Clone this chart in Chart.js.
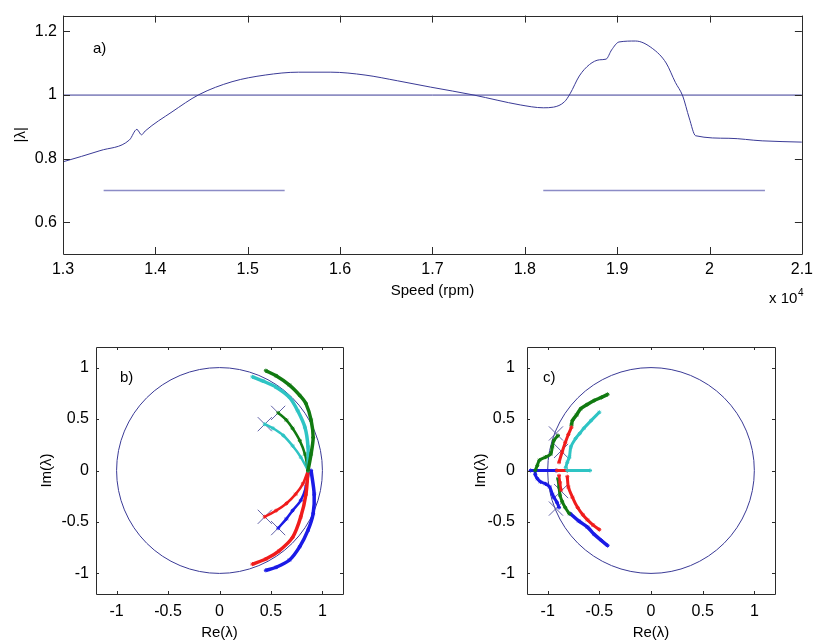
<!DOCTYPE html>
<html>
<head>
<meta charset="utf-8">
<script src="https://cdn.jsdelivr.net/npm/chart.js@4.4.1/dist/chart.umd.min.js"></script>
<style>
  body { margin: 0; background: #fff; width: 819px; height: 643px; position: relative; overflow: hidden; }
  canvas { position: absolute; }
</style>
</head>
<body>
<canvas id="magChart" width="819" height="310" style="left:0;top:0"></canvas>
<canvas id="rootsB" width="360" height="323" style="left:0;top:320px"></canvas>
<canvas id="rootsC" width="379" height="323" style="left:440px;top:320px"></canvas>
<script>
// a) largest eigenvalue magnitude against rotor speed
const speedRpm = [13000, 13400, 13720, 13800, 13850, 13890, 14180, 14470, 14830, 15190,
  15550, 15900, 16270, 16620, 16980, 17450, 17700, 17950, 18200, 18310,
  18430, 18490, 18590, 18700, 18810, 18880, 18940, 19020, 19200, 19380,
  19530, 19630, 19710, 19780, 19850, 20210, 20570, 21000];
const lambdaMag = [0.790, 0.825, 0.859, 0.892, 0.875, 0.887, 0.947, 1.001, 1.042, 1.063,
  1.072, 1.072, 1.063, 1.045, 1.025, 1.000, 0.984, 0.969, 0.960, 0.962,
  0.979, 1.004, 1.060, 1.096, 1.111, 1.113, 1.142, 1.167, 1.170, 1.147,
  1.101, 1.040, 0.997, 0.928, 0.872, 0.864, 0.856, 0.852];
const unityLine = [[13000, 1], [21000, 1]];
const stableBandLow = [[13440, 0.7], [15400, 0.7]];
const stableBandHigh = [[18200, 0.7], [20600, 0.7]];
const speedTicks = [13000, 14000, 15000, 16000, 17000, 18000, 19000, 20000, 21000];
const magTicks = [0.6, 0.8, 1, 1.2];

// b) root loci, speeds below the band
const bGreenOuter = [[0.86, 0], [0.89, 0.16], [0.91, 0.32], [0.89, 0.49], [0.84, 0.65], [0.78, 0.73], [0.68, 0.83], [0.55, 0.92], [0.45, 0.97]];
const bCyanOuter = [[0.86, 0], [0.86, 0.23], [0.83, 0.42], [0.76, 0.58], [0.68, 0.71], [0.55, 0.81], [0.42, 0.87], [0.32, 0.91]];
const bGreenInner = [[0.86, 0], [0.83, 0.16], [0.78, 0.29], [0.71, 0.41], [0.65, 0.49], [0.57, 0.56]];
const bCyanInner = [[0.86, 0], [0.79, 0.13], [0.71, 0.24], [0.62, 0.34], [0.52, 0.41], [0.44, 0.45]];
const bRedOuter = [[0.86, 0], [0.84, -0.23], [0.79, -0.45], [0.71, -0.65], [0.58, -0.78], [0.45, -0.86], [0.32, -0.91]];
const bBlueOuter = [[0.89, 0], [0.92, -0.23], [0.91, -0.42], [0.86, -0.58], [0.78, -0.74], [0.68, -0.87], [0.55, -0.94], [0.45, -0.97]];
const bRedInner = [[0.86, 0], [0.81, -0.13], [0.74, -0.23], [0.65, -0.32], [0.55, -0.39], [0.44, -0.45]];
const bBlueInner = [[0.87, 0], [0.84, -0.16], [0.79, -0.29], [0.71, -0.39], [0.65, -0.47], [0.57, -0.56]];
const bStart = [[0.57, 0.56], [0.44, 0.45], [0.44, -0.45], [0.57, -0.56]];

// c) root loci, speeds above the band
const cBlueAxis = [[-1.165, 0], [-0.92, 0]];
const cBlueLower = [[-1.12, 0], [-1.12, -0.04], [-1.10, -0.08], [-1.07, -0.11], [-1.02, -0.13], [-0.98, -0.16], [-0.955, -0.23], [-0.94, -0.26], [-0.91, -0.31], [-0.89, -0.36]];
const cBlueTail = [[-0.78, -0.42], [-0.70, -0.49], [-0.615, -0.55], [-0.55, -0.62], [-0.48, -0.68], [-0.42, -0.73]];
const cGreenLobe = [[-1.12, 0], [-1.10, 0.05], [-1.08, 0.10], [-1.02, 0.13], [-0.97, 0.16], [-0.955, 0.23], [-0.94, 0.29], [-0.90, 0.34]];
const cGreenUpper = [[-0.77, 0.44], [-0.76, 0.485], [-0.72, 0.54], [-0.68, 0.60], [-0.62, 0.64], [-0.55, 0.68], [-0.48, 0.71], [-0.42, 0.74]];
const cGreenLower = [[-0.90, -0.08], [-0.89, -0.16], [-0.88, -0.24], [-0.86, -0.30], [-0.83, -0.36], [-0.79, -0.42]];
const cRedAxis = [[-0.91, 0], [-0.81, 0]];
const cRedUpper = [[-0.89, 0.08], [-0.86, 0.18], [-0.83, 0.27], [-0.80, 0.35], [-0.77, 0.42]];
const cRedLower = [[-0.81, -0.06], [-0.80, -0.16], [-0.76, -0.26], [-0.71, -0.36], [-0.66, -0.43], [-0.615, -0.48], [-0.56, -0.53], [-0.50, -0.575]];
const cRedInner = [[-0.89, -0.05], [-0.88, -0.12], [-0.87, -0.19]];
const cCyanAxis = [[-0.81, 0], [-0.59, 0]];
const cCyanUpper = [[-0.825, 0.03], [-0.81, 0.08], [-0.79, 0.13], [-0.775, 0.23], [-0.73, 0.31], [-0.69, 0.36], [-0.65, 0.41], [-0.58, 0.485], [-0.50, 0.566]];
const cStart = [[-0.92, 0.36], [-0.87, 0.19], [-0.87, -0.20], [-0.92, -0.37]];
const rootTicks = [-1, -0.5, 0, 0.5, 1];

const NAVY = '#3a3a96';
const PALE = '#8c8cc6';
const GREEN = '#117a11';
const CYAN = '#2ec4c4';
const RED = '#f01c1c';
const BLUE = '#1a1ae6';
const FONT = '"Liberation Sans", Arial, sans-serif';

const pts = arr => arr.map(([x, y]) => ({ x, y }));

// MATLAB-style box with inward ticks, plus free text labels
const frame = {
  id: 'frame',
  afterDraw(chart, args, opts) {
    const { ctx, chartArea: a, scales } = chart;
    const len = opts.tick;
    ctx.save();
    ctx.strokeStyle = '#2b2b2b';
    ctx.lineWidth = 1;
    ctx.beginPath();
    scales.x.ticks.forEach(t => {
      const px = Math.round(scales.x.getPixelForValue(t.value)) + 0.5;
      ctx.moveTo(px, a.bottom); ctx.lineTo(px, a.bottom - len);
      ctx.moveTo(px, a.top); ctx.lineTo(px, a.top + len);
    });
    scales.y.ticks.forEach(t => {
      const py = Math.round(scales.y.getPixelForValue(t.value)) + 0.5;
      ctx.moveTo(a.left, py); ctx.lineTo(a.left + len, py);
      ctx.moveTo(a.right, py); ctx.lineTo(a.right - len, py);
    });
    ctx.rect(Math.round(a.left) + 0.5, Math.round(a.top) + 0.5, Math.round(a.width), Math.round(a.height));
    ctx.stroke();
    ctx.fillStyle = '#000';
    ctx.textBaseline = 'alphabetic';
    (opts.labels || []).forEach(l => {
      ctx.font = (l.size || 15) + 'px ' + FONT;
      ctx.fillText(l.text, l.x, l.y);
    });
    ctx.restore();
  }
};

// unit circle drawn through the chart's own scales
const unitCircle = {
  id: 'unitCircle',
  beforeDatasetsDraw(chart) {
    const { ctx, chartArea: a, scales: { x, y } } = chart;
    const cx = x.getPixelForValue(0), cy = y.getPixelForValue(0);
    const rx = x.getPixelForValue(1) - cx, ry = cy - y.getPixelForValue(1);
    ctx.save();
    ctx.beginPath();
    ctx.rect(a.left, a.top, a.width, a.height);
    ctx.clip();
    ctx.beginPath();
    ctx.ellipse(cx, cy, rx, ry, 0, 0, Math.PI * 2);
    ctx.strokeStyle = NAVY;
    ctx.lineWidth = 1;
    ctx.stroke();
    ctx.restore();
  }
};

function axis(opts) {
  return {
    type: 'linear',
    min: opts.min,
    max: opts.max,
    grid: { display: false, drawTicks: false },
    border: { display: false },
    afterBuildTicks: s => { s.ticks = opts.ticks.map(value => ({ value })); },
    afterFit: s => { if (opts.width) s.width = opts.width; if (opts.height) s.height = opts.height; },
    ticks: {
      color: '#000',
      padding: opts.pad,
      maxRotation: 0,
      autoSkip: false,
      font: { family: FONT, size: 16 },
      callback: opts.format || (v => String(v))
    },
    title: {
      display: true,
      text: opts.title,
      color: '#000',
      font: { family: FONT, size: 15 },
      padding: opts.titlePad
    }
  };
}

const common = {
  responsive: false,
  animation: false,
  devicePixelRatio: 1,
  plugins: { legend: { display: false }, tooltip: { enabled: false } }
};

new Chart(document.getElementById('magChart'), {
  type: 'scatter',
  data: {
    datasets: [
      { data: pts(unityLine), showLine: true, borderColor: NAVY, borderWidth: 1, pointRadius: 0 },
      { data: pts(stableBandLow), showLine: true, borderColor: PALE, borderWidth: 1.5, pointRadius: 0 },
      { data: pts(stableBandHigh), showLine: true, borderColor: PALE, borderWidth: 1.5, pointRadius: 0 },
      {
        data: speedRpm.map((x, i) => ({ x, y: lambdaMag[i] })),
        showLine: true, borderColor: NAVY, borderWidth: 1, pointRadius: 0,
        cubicInterpolationMode: 'monotone'
      }
    ]
  },
  options: {
    ...common,
    layout: { padding: { top: 8, right: 12, left: 0, bottom: 0 } },
    plugins: {
      ...common.plugins,
      frame: {
        tick: 7,
        labels: [
          { text: 'a)', x: 93, y: 53 },
          { text: 'x 10', x: 769, y: 303 },
          { text: '4', x: 798, y: 296, size: 10 }
        ]
      }
    },
    scales: {
      x: axis({ min: 13000, max: 21000, ticks: speedTicks, height: 56, pad: 6,
        title: 'Speed (rpm)', titlePad: { top: 0, bottom: 10 },
        format: v => String(+(v / 10000).toFixed(2)) }),
      y: axis({ min: 0.5, max: 1.25, ticks: magTicks, width: 63, pad: 6,
        title: '|λ|', titlePad: { top: 12, bottom: 0 } })
    }
  },
  plugins: [frame]
});

function series(points, color, width) {
  return {
    data: pts(points), showLine: true, tension: 0.3,
    borderColor: color, backgroundColor: color, borderWidth: width,
    pointStyle: 'star', pointRadius: 2, pointBorderWidth: 1
  };
}

function crosses(points) {
  return {
    data: pts(points), showLine: false,
    pointStyle: 'crossRot', pointRadius: 10, pointBorderWidth: 1,
    borderColor: '#6060a6', backgroundColor: '#6060a6'
  };
}

function rootOptions(left, right, tickPad, yTitlePad, label) {
  return {
    ...common,
    layout: { padding: { top: 27, right: right, left: 0, bottom: 0 } },
    plugins: {
      ...common.plugins,
      frame: { tick: 3, labels: [label] }
    },
    scales: {
      x: axis({ min: -1.2, max: 1.2, ticks: rootTicks, height: 49, pad: 8,
        title: 'Re(λ)', titlePad: { top: 0, bottom: 1 } }),
      y: axis({ min: -1.2, max: 1.2, ticks: rootTicks, width: left, pad: tickPad,
        title: 'Im(λ)', titlePad: { top: yTitlePad, bottom: 0 } })
    }
  };
}

new Chart(document.getElementById('rootsB'), {
  type: 'scatter',
  data: {
    datasets: [
      series(bGreenOuter, GREEN, 3.5),
      series(bCyanOuter, CYAN, 3.5),
      series(bGreenInner, GREEN, 2.5),
      series(bCyanInner, CYAN, 2.5),
      series(bRedOuter, RED, 3.5),
      series(bBlueOuter, BLUE, 3.5),
      series(bRedInner, RED, 2.5),
      series(bBlueInner, BLUE, 2.5),
      crosses(bStart)
    ]
  },
  options: rootOptions(96, 17, 7, 38, { text: 'b)', x: 120, y: 62 }),
  plugins: [unitCircle, frame]
});

new Chart(document.getElementById('rootsC'), {
  type: 'scatter',
  data: {
    datasets: [
      series(cCyanAxis, CYAN, 3),
      series(cCyanUpper, CYAN, 3),
      series(cRedAxis, RED, 3),
      series(cRedUpper, RED, 3),
      series(cRedLower, RED, 3),
      series(cRedInner, RED, 2.5),
      series(cGreenLobe, GREEN, 3),
      series(cGreenUpper, GREEN, 3.5),
      series(cGreenLower, GREEN, 3),
      series(cBlueAxis, BLUE, 3),
      series(cBlueLower, BLUE, 3),
      series(cBlueTail, BLUE, 3.5),
      crosses(cStart)
    ]
  },
  options: rootOptions(87, 44, 12, 32, { text: 'c)', x: 103, y: 62 }),
  plugins: [unitCircle, frame]
});
</script>
</body>
</html>
